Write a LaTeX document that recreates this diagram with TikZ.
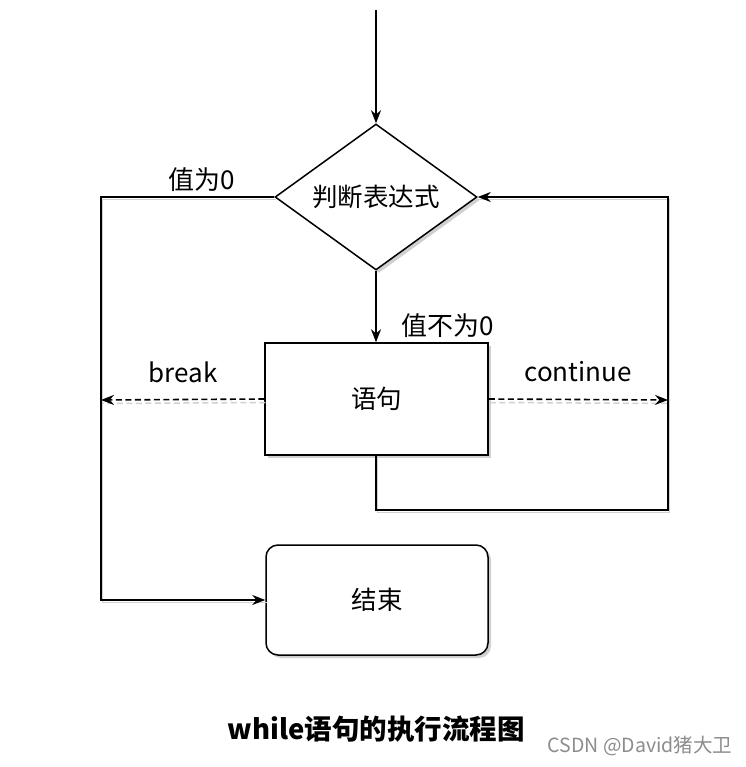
\documentclass[tikz,border=0pt]{standalone}
\usepackage{fontspec}
\setmainfont{Noto Sans CJK SC}
\usetikzlibrary{shapes.geometric,arrows.meta,shadows}
\begin{document}
\begin{tikzpicture}[x=1pt,y=-1pt,
  shape shadow/.style={drop shadow={opacity=0.3,shadow xshift=3pt,shadow yshift=-3pt,fill=black!60}},
  diam/.style={diamond,draw,line width=1.5pt,fill=white,aspect=1.38,minimum width=202pt,minimum height=146pt,inner sep=0pt,font=\fontsize{25.5}{30}\selectfont,shape shadow},
  stmt/.style={rectangle,draw,line width=1.5pt,fill=white,minimum width=223pt,minimum height=112pt,font=\fontsize{25.5}{30}\selectfont,shape shadow},
  endbox/.style={rectangle,rounded corners=12pt,draw,line width=1.5pt,fill=white,minimum width=222pt,minimum height=110pt,font=\fontsize{25.5}{30}\selectfont,shape shadow},
  conn/.style={draw=black,line width=1.8pt,-{Stealth[length=13pt,width=10pt]}},
  dconn/.style={draw=black,line width=1.6pt,dash pattern=on 6pt off 3.5pt,-{Stealth[length=13pt,width=10pt]}},
  shline/.style={draw=black!18,line width=1.6pt,transform canvas={shift={(1.5pt,-2.5pt)}}},
  shdline/.style={draw=black!18,line width=1.5pt,dash pattern=on 6pt off 3.5pt,transform canvas={shift={(1pt,-3.5pt)}}},
  lbl/.style={font=\fontsize{26}{30}\selectfont,inner sep=0pt},
  captext/.style={font=\fontsize{27.5}{32}\selectfont\bfseries,inner sep=0pt},
  wm/.style={font=\fontsize{19.5}{22}\selectfont,text=black!45,inner sep=0pt}]
\useasboundingbox[fill=white] (0,0) rectangle (745,767);

% coordinates
\coordinate (top) at (376,10);
\coordinate (l1) at (101,197);
\coordinate (l2) at (101,600);
\coordinate (bl) at (101,400);
\coordinate (cr) at (668,400);
\coordinate (r1) at (376,510);
\coordinate (r2) at (668,510);
\coordinate (r3) at (668,197);

% nodes
\node[diam] (d) at (376,197) {判断表达式};
\node[stmt] (s) at (376.5,399) {语句};
\node[endbox] (e) at (377,600) {结束};

% shadows of connectors
\draw[shline] (d.west) -- (l1) -- (l2) -- (e.west);
\draw[shline] (s.south -| r1) -- (r1) -- (r2) -- (r3) -- (d.east);
\draw[shdline] (s.west) -- (bl);
\draw[shdline] (s.east) -- (cr);

% connectors
\draw[conn] (top) -- (d.north);
\draw[conn] (d.south) -- (s.north -| d.south);
\draw[conn] (d.west) -- (l1) -- (l2) -- (e.west);
\draw[conn] (s.south -| r1) -- (r1) -- (r2) -- (r3) -- (d.east);
\draw[dconn] (s.west) -- (bl);
\draw[dconn] (s.east) -- (cr);

% labels
\node[lbl] (v0) at (202,180) {值为0};
\node[lbl] (vn0) at (448,326) {值不为0};
\node[lbl] (brk) at (183,372) {break};
\node[lbl] (cnt) at (578,372) {continue};

\node[captext] (caption) at (376,729) {while语句的执行流程图};
\node[wm] (mark) at (640,746) {CSDN @David猪大卫};
\end{tikzpicture}
\end{document}
